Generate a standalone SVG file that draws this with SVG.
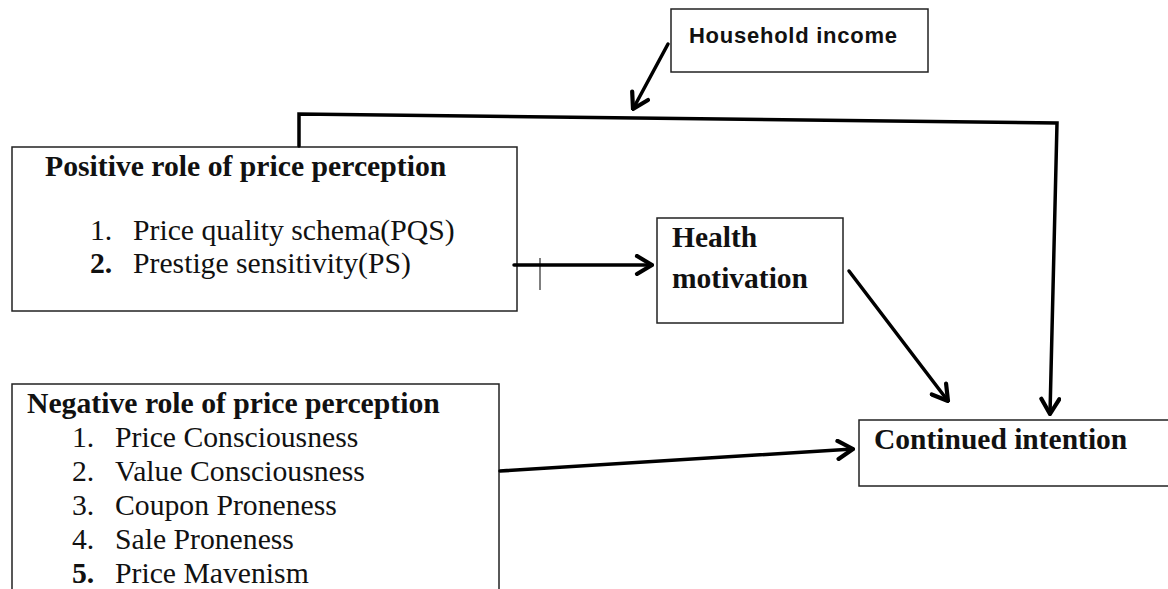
<svg xmlns="http://www.w3.org/2000/svg" width="1168" height="589" viewBox="0 0 1168 589">
<defs>
<marker id="arr" viewBox="-18 -11 20 22" refX="0" refY="0" markerWidth="20" markerHeight="22" markerUnits="userSpaceOnUse" orient="auto">
<path d="M-15,-9 L0,0 L-15,9" fill="none" stroke="#000" stroke-width="4.2" stroke-linecap="round" stroke-linejoin="round"/>
</marker>
<style>
.box{fill:#fff;stroke:#222;stroke-width:1.5}
.t{font-family:"Liberation Serif","Times New Roman",serif;font-size:29.7px;fill:#111}
.h{font-size:29.5px}
.b{font-weight:bold}
.s{font-family:"Liberation Sans",Arial,sans-serif;font-size:22px;font-weight:bold;fill:#111}
.c{fill:none;stroke:#000;stroke-width:3.5;stroke-linecap:round}
</style>
</defs>
<rect width="1168" height="589" fill="#fff"/>
<g id="household">
<rect class="box" x="671" y="9" width="257" height="63"/>
<text class="s" x="689" y="43" textLength="208" lengthAdjust="spacing">Household income</text>
</g>
<g id="positive">
<rect class="box" x="12" y="147" width="505" height="164"/>
<text class="t b" x="45" y="176">Positive role of price perception</text>
<text class="t" x="90" y="240">1.</text>
<text class="t" x="133" y="240">Price quality schema(PQS)</text>
<text class="t b" x="90" y="273">2.</text>
<text class="t" x="133" y="273">Prestige sensitivity(PS)</text>
</g>
<g id="health">
<rect class="box" x="657" y="218" width="186" height="105"/>
<text class="t h b" x="672" y="247">Health</text>
<text class="t h b" x="672" y="288">motivation</text>
</g>
<g id="negative">
<rect class="box" x="12" y="384" width="487" height="220"/>
<text class="t b" x="27" y="413">Negative role of price perception</text>
<text class="t" x="72" y="447">1.</text><text class="t" x="115" y="447">Price Consciousness</text>
<text class="t" x="72" y="481">2.</text><text class="t" x="115" y="481">Value Consciousness</text>
<text class="t" x="72" y="515">3.</text><text class="t" x="115" y="515">Coupon Proneness</text>
<text class="t" x="72" y="549">4.</text><text class="t" x="115" y="549">Sale Proneness</text>
<text class="t b" x="72" y="583">5.</text><text class="t" x="115" y="583">Price Mavenism</text>
</g>
<g id="continued">
<rect class="box" x="859" y="420" width="320" height="66"/>
<text class="t h b" x="874" y="449">Continued intention</text>
</g>
<g id="connectors">
<path class="c" d="M668,44 L633,109" marker-end="url(#arr)"/>
<path class="c" d="M299,146 L299,114 L1057,123 L1050,414" marker-end="url(#arr)" stroke-linejoin="miter"/>
<path class="c" d="M514,265 L652,265" marker-end="url(#arr)"/>
<line x1="540" y1="258" x2="540" y2="290" stroke="#000" stroke-width="1"/>
<path class="c" d="M849,271 L948,401" marker-end="url(#arr)"/>
<path class="c" d="M500,471 L853,449" marker-end="url(#arr)"/>
</g>
</svg>
